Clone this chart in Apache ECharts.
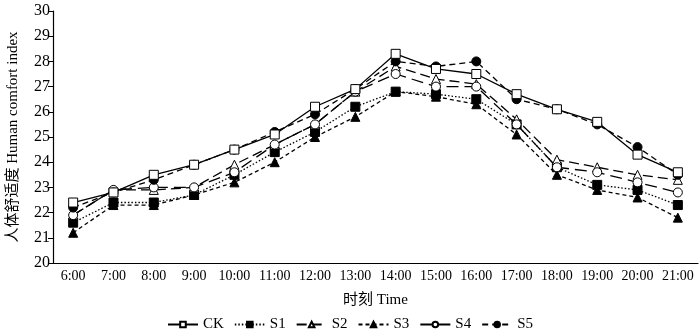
<!DOCTYPE html>
<html><head><meta charset="utf-8">
<script src="https://cdn.jsdelivr.net/npm/echarts@6/dist/echarts.min.js"></script>
<style>html,body{margin:0;padding:0;background:#fff}#c{width:700px;height:331px}</style>
</head><body><div id="c"></div>
<script>
const categories = ['6:00','7:00','8:00','9:00','10:00','11:00','12:00','13:00','14:00','15:00','16:00','17:00','18:00','19:00','20:00','21:00'];
const CK = [22.4,22.8,23.5,23.9,24.5,25.1,26.2,26.9,28.3,27.7,27.5,26.7,26.1,25.6,24.3,23.6];
const S1 = [21.6,22.4,22.4,22.7,23.5,24.4,25.2,26.2,26.8,26.7,26.5,25.5,23.8,23.1,22.9,22.3];
const S2 = [21.9,22.9,22.9,23.0,23.9,24.7,25.5,26.8,27.8,27.3,27.1,25.7,24.1,23.8,23.5,23.3];
const S3 = [21.2,22.3,22.3,22.7,23.2,24.0,25.0,25.8,26.8,26.6,26.3,25.1,23.5,22.9,22.6,21.8];
const S4 = [21.9,22.9,23.0,23.0,23.6,24.7,25.5,26.8,27.5,27.0,27.0,25.5,23.8,23.6,23.2,22.8];
const S5 = [22.2,22.8,23.3,23.9,24.5,25.2,25.9,26.9,28.0,27.8,28.0,26.5,26.1,25.5,24.6,23.5];
const yTicks = {min:20, max:30, interval:1};

const font = '"Liberation Serif","Times New Roman",serif';
const cjk = '"Liberation Serif","Noto Sans CJK SC",serif';
function s(name, data, symbol, fill, dash){
  return {name, type:'line', data, symbol, symbolSize:9,
    lineStyle:{color:'#000', width:1.3, type:dash},
    itemStyle:{color:fill, borderColor:'#000', borderWidth:1},
    emphasis:{disabled:true}};
}
const chart = echarts.init(document.getElementById('c'), null, {renderer:'canvas'});
chart.setOption({
  animation:false,
  backgroundColor:'#fff',
  grid:{left:53, right:2, top:11, bottom:68, containLabel:false, outerBoundsMode:'none'},
  legend:{top:312, left:'center', itemWidth:30, itemHeight:7, itemGap:10,
    textStyle:{fontFamily:font, fontSize:15, color:'#000'},
    data:['CK','S1','S2','S3','S4','S5']},
  xAxis:{type:'category', data:categories, boundaryGap:true,
    name:'时刻 Time', nameLocation:'middle', nameGap:30,
    nameTextStyle:{fontFamily:cjk, fontSize:15, color:'#000'},
    axisLine:{lineStyle:{color:'#000', width:1.2}},
    axisTick:{alignWithLabel:true, interval:0, length:5, lineStyle:{color:'#000'}},
    axisLabel:{interval:0, hideOverlap:false, fontFamily:font, fontSize:14, color:'#000', margin:6}},
  yAxis:{type:'value', min:yTicks.min, max:yTicks.max, interval:yTicks.interval,
    name:'人体舒适度 Human comfort index', nameLocation:'middle', nameGap:32,
    nameTextStyle:{fontFamily:cjk, fontSize:15, color:'#000'},
    splitLine:{show:false},
    axisLine:{show:true, lineStyle:{color:'#000', width:1.2}},
    axisTick:{show:true, length:5, lineStyle:{color:'#000'}},
    axisLabel:{fontFamily:font, fontSize:16, color:'#000', margin:3}},
  series:[
    s('S1', S1, 'rect', '#000', [1.5,2]),
    s('S3', S3, 'triangle', '#000', [4,3]),
    s('S2', S2, 'triangle', '#fff', [10,5]),
    s('S4', S4, 'circle', '#fff', [12,6]),
    s('S5', S5, 'circle', '#000', [6,4]),
    s('CK', CK, 'rect', '#fff', 'solid')
  ]
});
</script></body></html>
